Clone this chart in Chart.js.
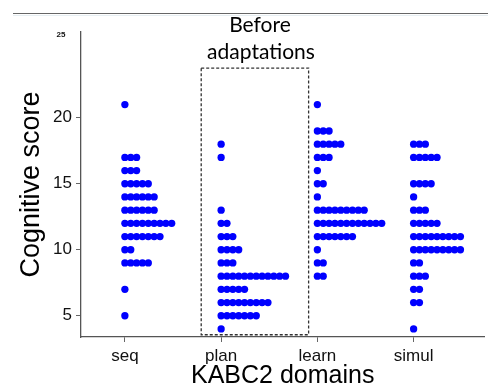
<!DOCTYPE html>
<html>
<head>
<meta charset="utf-8">
<script src="https://cdn.jsdelivr.net/npm/chart.js@4"></script>
<style>
html, body { margin: 0; padding: 0; background: #fff; }
</style>
</head>
<body>
<canvas id="dotChart" width="488" height="390"></canvas>
<script>
const categories = ['seq', 'plan', 'learn', 'simul'];
const scores = [4, 5, 6, 7, 8, 9, 10, 11, 12, 13, 14, 15, 16, 17, 18, 19, 20, 21];
// number of children at each score, per KABC2 domain
const seqCounts   = [0, 1, 0, 1, 0, 5, 2, 7, 9, 6, 6, 5, 3, 3, 0, 0, 0, 1];
const planCounts  = [1, 7, 9, 5, 12, 3, 4, 3, 2, 1, 0, 0, 0, 1, 1, 0, 0, 0];
const learnCounts = [0, 0, 0, 0, 2, 2, 1, 7, 12, 9, 1, 2, 1, 3, 5, 3, 0, 1];
const simulCounts = [1, 0, 2, 2, 3, 2, 9, 9, 5, 3, 1, 4, 0, 5, 3, 0, 0, 0];
const yTickValues = [5, 10, 15, 20];
const boxTitle = ['Before', 'adaptations'];
const cornerText = '25';

const FONT = '"Liberation Sans", Arial, Helvetica, sans-serif';
const DOT_STEP = 0.0608; // horizontal spacing of stacked dots, in x units

const countsByDomain = [seqCounts, planCounts, learnCounts, simulCounts];

function dotPoints(ci) {
	const pts = [];
	countsByDomain[ci].forEach((n, si) => {
		for (let k = 0; k < n; k++) pts.push({ x: ci + 1 + k * DOT_STEP, y: scores[si] });
	});
	return pts;
}

const extras = {
	id: 'extras',
	afterDraw(chart) {
		const { ctx, scales: { x, y } } = chart;
		ctx.save();
		// rule across the top
		ctx.strokeStyle = '#666';
		ctx.lineWidth = 1;
		ctx.beginPath(); ctx.moveTo(13, 13.5); ctx.lineTo(488, 13.5); ctx.stroke();
		ctx.strokeStyle = '#e6eef2';
		ctx.beginPath(); ctx.moveTo(13, 15.5); ctx.lineTo(488, 15.5); ctx.stroke();

		ctx.fillStyle = '#111';
		ctx.font = 'bold 8px ' + FONT;
		ctx.textAlign = 'center';
		ctx.textBaseline = 'middle';
		ctx.fillText(cornerText, 61, 34.5);

		// dashed box round plan
		const l = x.getPixelForValue(1.793), r = x.getPixelForValue(2.909);
		const t = y.getPixelForValue(23.77), b = y.getPixelForValue(3.56);
		ctx.setLineDash([3, 2]);
		ctx.lineWidth = 1.3;
		ctx.strokeStyle = '#333';
		ctx.strokeRect(l, t, r - l, b - t);
		ctx.setLineDash([]);

		ctx.fillStyle = '#000';
		ctx.font = '21px Lato, "Open Sans", sans-serif';
		ctx.textBaseline = 'alphabetic';
		ctx.fillText(boxTitle[0], 260, 32);
		ctx.fillText(boxTitle[1], 261, 59);
		ctx.restore();
	}
};

new Chart(document.getElementById('dotChart'), {
	type: 'scatter',
	data: {
		datasets: categories.map((c, i) => ({
			label: c,
			data: dotPoints(i),
			backgroundColor: '#0000ff',
			borderWidth: 0,
			pointRadius: 3.65,
			pointHoverRadius: 3.65
		}))
	},
	options: {
		responsive: false,
		animation: false,
		layout: { padding: { top: 32, left: 0, right: 0, bottom: 0 } },
		plugins: { legend: { display: false }, tooltip: { enabled: false } },
		scales: {
			x: {
				type: 'linear',
				min: 0.544,
				max: 4.735,
				afterBuildTicks: s => { s.ticks = categories.map((c, i) => ({ value: i + 1 })); },
				afterFit: s => { s.height = 53; },
				ticks: {
					callback: v => categories[v - 1],
					font: { family: FONT, size: 17 },
					color: '#111',
					padding: 4,
					maxRotation: 0,
					autoSkip: false
				},
				grid: { drawOnChartArea: false, tickLength: 5, color: '#666' },
				border: { color: '#555', width: 1.3 },
				title: {
					display: true,
					text: 'KABC2 domains',
					color: '#000',
					font: { family: FONT, size: 25, lineHeight: 1 },
					padding: { top: 0, bottom: 1 }
				}
			},
			y: {
				min: 3.39,
				max: 26.5,
				afterBuildTicks: s => { s.ticks = yTickValues.map(v => ({ value: v })); },
				afterFit: s => { s.width = 81; },
				ticks: {
					font: { family: FONT, size: 17 },
					color: '#111',
					padding: 4
				},
				grid: { drawOnChartArea: false, tickLength: 5, color: '#666' },
				border: { color: '#555', width: 1.3 },
				title: {
					display: true,
					text: 'Cognitive score',
					color: '#000',
					font: { family: FONT, size: 27, lineHeight: 1 },
					padding: { top: 18, bottom: 0 }
				}
			}
		}
	},
	plugins: [extras]
});
</script>
</body>
</html>
